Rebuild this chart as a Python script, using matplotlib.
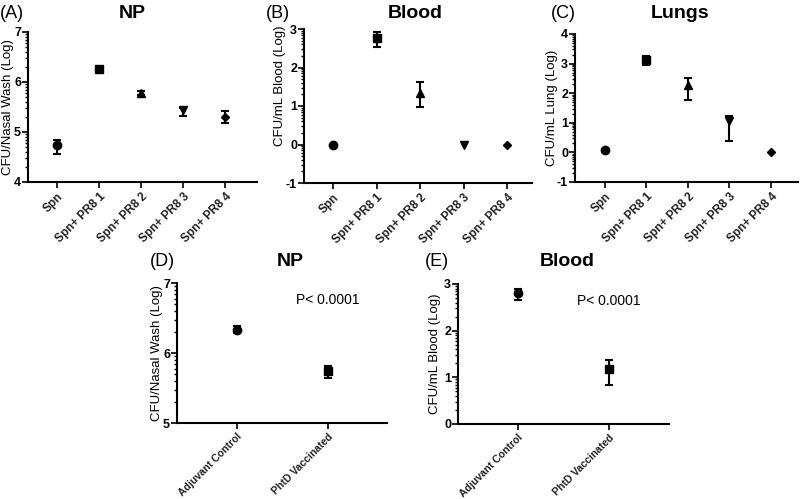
import numpy as np
import matplotlib.pyplot as plt

plt.rcParams['font.family'] = ['Liberation Sans', 'DejaVu Sans']

# top row groups
groups = ['Spn', 'Spn+ PR8 1', 'Spn+ PR8 2', 'Spn+ PR8 3', 'Spn+ PR8 4']
markers = ['o', 's', '^', 'v', 'D']

# mean, lower error, upper error (error bars are not symmetric in the original)
np_mean = [4.73, 6.25, 5.77, 5.43, 5.30]
np_lo = [0.18, 0.03, 0.04, 0.12, 0.13]
np_hi = [0.10, 0.03, 0.04, 0.05, 0.11]

blood_mean = [0.0, 2.76, 1.33, 0.0, 0.0]
blood_lo = [0.0, 0.22, 0.36, 0.0, 0.0]
blood_hi = [0.0, 0.15, 0.29, 0.0, 0.0]

lung_mean = [0.08, 3.13, 2.27, 1.05, 0.0]
lung_lo = [0.05, 0.19, 0.49, 0.66, 0.0]
lung_hi = [0.05, 0.12, 0.26, 0.18, 0.0]

# bottom row groups
vac_groups = ['Adjuvant Control', 'PhtD Vaccinated']
vac_markers = ['o', 's']
vac_np_mean = [6.33, 5.74]
vac_np_lo = [0.05, 0.09]
vac_np_hi = [0.05, 0.08]
vac_blood_mean = [2.80, 1.17]
vac_blood_lo = [0.14, 0.33]
vac_blood_hi = [0.10, 0.20]

W, H = 800, 499
fig = plt.figure(figsize=(W / 100, H / 100), dpi=100)


def make_ax(left, right, top, bottom):
    ax = fig.add_axes([left / W, 1 - bottom / H, (right - left) / W, (bottom - top) / H])
    ax.px_width = right - left
    return ax


def style(ax, labels, ylim, yticks, ylabel, xlim, xfs=8.5, ylab_y=0.5, ylab_dx=22):
    ax.set_xlim(*xlim)
    ax.set_ylim(*ylim)
    ax.set_xticks(range(len(labels)))
    ax.set_xticklabels(labels, rotation=45, ha='right', rotation_mode='anchor',
                       fontsize=xfs, fontweight='bold', color='#222222')
    ax.set_yticks(yticks)
    ax.set_yticklabels([str(t) for t in yticks], fontsize=9, fontweight='bold')
    # log-style minor ticks like the original
    minors = [n + np.log10(k) for n in yticks[:-1] for k in range(2, 10)]
    ax.set_yticks(minors, minor=True)
    ax.tick_params(axis='y', which='major', length=4, width=1.2, pad=1)
    ax.tick_params(axis='y', which='minor', length=2, width=1)
    ax.tick_params(axis='x', length=4, width=1.2, pad=2)
    for s in ['top', 'right']:
        ax.spines[s].set_visible(False)
    for s in ['left', 'bottom']:
        ax.spines[s].set_linewidth(1.5)
    ax.set_ylabel(ylabel, fontsize=9.5, va='center')
    ax.yaxis.set_label_coords(-ylab_dx / ax.px_width, ylab_y)


def draw(ax, means, lo, hi, mks):
    for i, (m, l, h, mk) in enumerate(zip(means, lo, hi, mks)):
        err = [[l], [h]] if (l + h) > 0 else None
        ax.errorbar(i, m, yerr=err, fmt=mk, color='black',
                    markersize=6 if mk != 'D' else 4.5, capsize=3, elinewidth=1.5,
                    capthick=1.5, clip_on=False)


axA = make_ax(28, 257, 32, 182)
draw(axA, np_mean, np_lo, np_hi, markers)
style(axA, groups, (4, 7), [4, 5, 6, 7], 'CFU/Nasal Wash (Log)', (-0.69, 4.76),
      ylab_dx=20)

axB = make_ax(304, 532, 29, 183)
draw(axB, blood_mean, blood_lo, blood_hi, markers)
style(axB, groups, (-1, 3), [-1, 0, 1, 2, 3], 'CFU/mL Blood (Log)', (-0.67, 4.57),
      ylab_y=0.63, ylab_dx=24)

axC = make_ax(575, 798, 34, 182)
draw(axC, lung_mean, lung_lo, lung_hi, markers)
style(axC, groups, (-1, 4), [-1, 0, 1, 2, 3, 4], 'CFU/mL Lung (Log)', (-0.72, 4.65),
      ylab_dx=23)

axD = make_ax(177, 387, 283, 423)
draw(axD, vac_np_mean, vac_np_lo, vac_np_hi, vac_markers)
style(axD, vac_groups, (5, 7), [5, 6, 7], 'CFU/Nasal Wash (Log)', (-0.66, 1.65), xfs=7.5,
      ylab_dx=20)
axD.text(1.0, 6.75, 'P< 0.0001', ha='center', va='center', fontsize=10)

axE = make_ax(458, 669, 284, 424)
draw(axE, vac_blood_mean, vac_blood_lo, vac_blood_hi, vac_markers)
style(axE, vac_groups, (0, 3), [0, 1, 2, 3], 'CFU/mL Blood (Log)', (-0.66, 1.66), xfs=7.5,
      ylab_dx=23)
axE.text(1.0, 2.64, 'P< 0.0001', ha='center', va='center', fontsize=10)

# titles and panel letters
titles = [('NP', 132, 14), ('Blood', 415, 14), ('Lungs', 680, 14),
          ('NP', 290, 262), ('Blood', 567, 262)]
for t, x, y in titles:
    fig.text(x / W, 1 - y / H, t, ha='center', va='center', fontsize=14, fontweight='bold')

letters = [('(A)', 0, 14), ('(B)', 266, 14), ('(C)', 551, 14),
           ('(D)', 150, 262), ('(E)', 425, 262)]
for t, x, y in letters:
    fig.text(x / W, 1 - y / H, t, ha='left', va='center', fontsize=13)

fig.savefig('out.png', dpi=100)
